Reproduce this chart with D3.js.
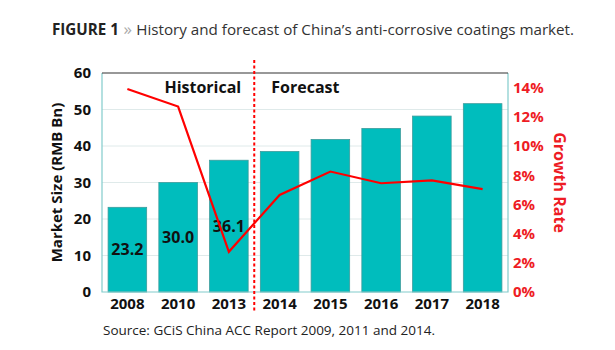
<!DOCTYPE html>
<html>
<head>
<meta charset="utf-8">
<script src="https://cdn.jsdelivr.net/npm/d3@7"></script>
<style>
  body { margin: 0; background: #fff; }
  text { font-family: "Open Sans", "DejaVu Sans", sans-serif; }
</style>
</head>
<body>
<div id="chart"></div>
<script>
// data
const years = ["2008", "2010", "2013", "2014", "2015", "2016", "2017", "2018"];
const marketSize = [23.2, 30.0, 36.1, 38.5, 41.8, 44.8, 48.2, 51.6];
const growthRate = [13.9, 12.7, 2.75, 6.65, 8.25, 7.45, 7.65, 7.05];
const labelled = ["2008", "2010", "2013"]; // historical values written on the bars
const leftTicks = [0, 10, 20, 30, 40, 50, 60];
const rightTicks = [0, 2, 4, 6, 8, 10, 12, 14];

const W = 615, H = 350;
const margin = { top: 73, right: 107, bottom: 58, left: 102 };
const width = W - margin.left - margin.right;
const height = H - margin.top - margin.bottom;

const svg = d3.select("#chart").append("svg")
    .attr("width", W)
    .attr("height", H);

// title
const title = svg.append("text")
    .attr("x", 52)
    .attr("y", 35)
    .style("font-size", "15.2px");
title.append("tspan").text("FIGURE 1").style("font-weight", "bold").style("fill", "#222");
title.append("tspan").text(" » ").style("fill", "#aaa").style("font-size", "17px");
title.append("tspan").text("History and forecast of China’s anti-corrosive coatings market.").style("fill", "#333");

const g = svg.append("g")
    .attr("transform", `translate(${margin.left},${margin.top})`);

// scales
const x = d3.scaleBand()
    .domain(years)
    .range([0, width])
    .paddingInner(0.24)
    .paddingOuter(0.12);

const yLeft = d3.scaleLinear().domain([0, 60]).range([height, 0]);
const yRight = d3.scaleLinear().domain([0, 15]).range([height, 0]);

// gridlines
g.append("g")
    .selectAll("line")
    .data(leftTicks.slice(1, -1))
    .join("line")
    .attr("x1", 0).attr("x2", width)
    .attr("y1", d => yLeft(d)).attr("y2", d => yLeft(d))
    .attr("stroke", "#dfeaea")
    .attr("stroke-width", 1);

// bars
g.selectAll(".bar")
    .data(years.map((y, i) => ({ year: y, value: marketSize[i] })))
    .join("rect")
    .attr("class", "bar")
    .attr("x", d => x(d.year))
    .attr("y", d => yLeft(d.value))
    .attr("width", x.bandwidth())
    .attr("height", d => height - yLeft(d.value))
    .attr("fill", "#00bdbd")
    .attr("stroke", "#3d9c9c")
    .attr("stroke-width", 0.8);

// frame: teal left/right/bottom, dark top
g.append("path")
    .attr("d", `M0,0V${height}H${width}V0`)
    .attr("fill", "none")
    .attr("stroke", "#82cccc")
    .attr("stroke-width", 1.2);
g.append("line")
    .attr("x1", 0).attr("x2", width)
    .attr("y1", 0).attr("y2", 0)
    .attr("stroke", "#333")
    .attr("stroke-width", 1.2);

// value labels inside historical bars
g.selectAll(".val")
    .data(years.map((y, i) => ({ year: y, value: marketSize[i] })).filter(d => labelled.includes(d.year)))
    .join("text")
    .attr("class", "val")
    .attr("x", d => x(d.year) + x.bandwidth() / 2)
    .attr("y", d => yLeft(d.value / 2))
    .attr("dy", "0.35em")
    .attr("text-anchor", "middle")
    .style("font-size", "16px")
    .style("font-weight", "bold")
    .style("fill", "#111")
    .text(d => d.value.toFixed(1));

// growth line
const line = d3.line()
    .x((d, i) => x(years[i]) + x.bandwidth() / 2)
    .y(d => yRight(d));

g.append("path")
    .datum(growthRate)
    .attr("d", line)
    .attr("fill", "none")
    .attr("stroke", "#ff0000")
    .attr("stroke-width", 2.2);

// divider between historical and forecast
const divX = (x("2013") + x.bandwidth() + x("2014")) / 2;
g.append("line")
    .attr("x1", divX).attr("x2", divX)
    .attr("y1", -13).attr("y2", height + 20)
    .attr("stroke", "#ff0000")
    .attr("stroke-width", 2)
    .attr("stroke-dasharray", "3,2.5");

g.append("text")
    .attr("x", divX - 13)
    .attr("y", 20)
    .attr("text-anchor", "end")
    .style("font-size", "16px")
    .style("font-weight", "bold")
    .style("fill", "#111")
    .text("Historical");

g.append("text")
    .attr("x", divX + 17)
    .attr("y", 20)
    .style("font-size", "16px")
    .style("font-weight", "bold")
    .style("fill", "#111")
    .text("Forecast");

// axes
const xAxis = g.append("g")
    .attr("transform", `translate(0,${height})`)
    .call(d3.axisBottom(x).tickSize(0).tickPadding(6));
xAxis.select(".domain").remove();
xAxis.selectAll("text")
    .style("font-family", "'Open Sans', sans-serif")
    .style("font-size", "15px")
    .style("font-weight", "bold")
    .style("fill", "#111");

const yAxisL = g.append("g")
    .call(d3.axisLeft(yLeft).tickValues(leftTicks).tickSize(0).tickPadding(11));
yAxisL.select(".domain").remove();
yAxisL.selectAll("text")
    .style("font-family", "'Open Sans', sans-serif")
    .style("font-size", "15px")
    .style("font-weight", "bold")
    .style("fill", "#111");

const yAxisR = g.append("g")
    .attr("transform", `translate(${width},0)`)
    .call(d3.axisRight(yRight).tickValues(rightTicks).tickFormat(d => d + "%").tickSize(0).tickPadding(5));
yAxisR.select(".domain").remove();
yAxisR.selectAll("text")
    .style("font-family", "'Open Sans', sans-serif")
    .style("font-size", "15px")
    .style("font-weight", "bold")
    .style("fill", "#ee1c24");

// axis titles
g.append("text")
    .attr("transform", `translate(${57 - margin.left},${height / 2}) rotate(-90)`)
    .attr("text-anchor", "middle")
    .attr("dy", "0.35em")
    .style("font-size", "15px")
    .style("font-weight", "bold")
    .style("fill", "#111")
    .text("Market Size (RMB Bn)");

g.append("text")
    .attr("transform", `translate(${width + 52},${height / 2}) rotate(90)`)
    .attr("text-anchor", "middle")
    .attr("dy", "0.35em")
    .style("font-size", "16px")
    .style("font-weight", "bold")
    .style("fill", "#ee1c24")
    .text("Growth Rate");

// source
svg.append("text")
    .attr("x", 103)
    .attr("y", 335)
    .style("font-size", "13.5px")
    .style("fill", "#222")
    .text("Source: GCiS China ACC Report 2009, 2011 and 2014.");
</script>
</body>
</html>
